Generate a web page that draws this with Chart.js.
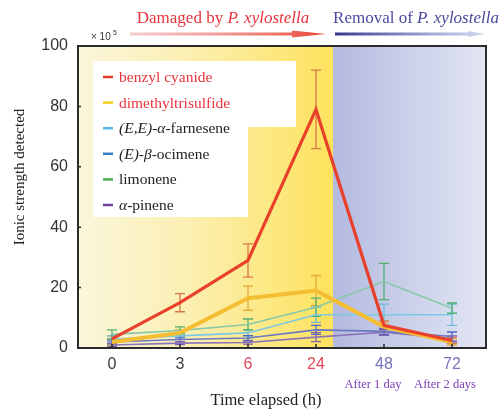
<!DOCTYPE html>
<html>
<head>
<meta charset="utf-8">
<script src="https://cdn.jsdelivr.net/npm/chart.js@4.4.1/dist/chart.umd.min.js"></script>
<style>
  html, body { margin: 0; padding: 0; background: #ffffff; }
  #wrap { width: 501px; height: 412px; }
</style>
</head>
<body>
<div id="wrap"><canvas id="c" width="501" height="412"></canvas></div>
<script>
// Sampling times (h) and volatile ion intensities (x 10^5)
const categories = ['0', '3', '6', '24', '48', '72'];

const benzylCyanide       = [3, 15, 29, 79, 7.5, 2.5];
const benzylCyanideErr    = [1, 3, 5.5, 13, 1.5, 1];
const dimethyltrisulfide    = [2, 5, 16.5, 19, 7, 2];
const dimethyltrisulfideErr = [1, 1, 4, 5, 1.5, 1];
const farnesene    = [3, 4, 5, 11, 11, 11];
const farneseneErr = [1, 1, 1, 2.5, 3.5, 3.5];
const ocimene    = [2, 2.8, 3.3, 6, 5.5, 3.8];
const ocimeneErr = [0.6, 0.8, 0.8, 1.5, 1, 1.5];
const limonene    = [4.5, 5.8, 7.8, 13.5, 22, 13.2];
const limoneneErr = [1.5, 1.2, 1.8, 3, 6, 1.7];
const pinene    = [1, 1.6, 1.8, 3.6, 5.2, 3];
const pineneErr = [0.5, 0.5, 0.5, 1.5, 1, 1];

const SERIF = "'Liberation Serif', 'Times New Roman', serif";
const SANS = "'Liberation Sans', Arial, sans-serif";

const series = [
  { label: 'benzyl cyanide', data: benzylCyanide, err: benzylCyanideErr, color: '#e8402a', errColor: '#d9784c', width: 3.2,
    legendColor: '#e8392a', text: [{ t: 'benzyl cyanide' }], textColor: '#e8343c' },
  { label: 'dimethyltrisulfide', data: dimethyltrisulfide, err: dimethyltrisulfideErr, color: '#f5bd32', errColor: '#e3a83c', width: 4,
    legendColor: '#f5d020', text: [{ t: 'dimethyltrisulfide' }], textColor: '#e8343c' },
  { label: '(E,E)-α-farnesene', data: farnesene, err: farneseneErr, color: '#7cc8e6', errColor: '#6cbcd8', width: 1.6,
    legendColor: '#5cb8e8', text: [{ t: '(E,E)', i: true }, { t: '-' }, { t: 'α', i: true }, { t: '-farnesene' }], textColor: '#222222' },
  { label: '(E)-β-ocimene', data: ocimene, err: ocimeneErr, color: '#6a78c4', errColor: '#4e66c0', width: 1.6,
    legendColor: '#3a78c8', text: [{ t: '(E)', i: true }, { t: '-' }, { t: 'β', i: true }, { t: '-ocimene' }], textColor: '#222222' },
  { label: 'limonene', data: limonene, err: limoneneErr, color: '#86c8a8', errColor: '#52b070', width: 1.6,
    legendColor: '#4cb050', text: [{ t: 'limonene' }], textColor: '#222222' },
  { label: 'α-pinene', data: pinene, err: pineneErr, color: '#8a74b8', errColor: '#8060b0', width: 1.6,
    legendColor: '#7040a0', text: [{ t: 'α', i: true }, { t: '-pinene' }], textColor: '#222222' }
];

const tickColors = ['#3a3a3a', '#3a3a3a', '#e2485a', '#e2485a', '#7474bc', '#7474bc'];

// Draws a run of text pieces (some italic) starting at x
function drawRuns(ctx, runs, x, y, size, color, align) {
  let total = 0;
  runs.forEach(r => {
    ctx.font = (r.i ? 'italic ' : '') + size + 'px ' + SERIF;
    r.w = ctx.measureText(r.t).width;
    total += r.w;
  });
  let cx = align === 'center' ? x - total / 2 : x;
  ctx.fillStyle = color;
  ctx.textBaseline = 'alphabetic';
  ctx.textAlign = 'left';
  runs.forEach(r => {
    ctx.font = (r.i ? 'italic ' : '') + size + 'px ' + SERIF;
    ctx.fillText(r.t, cx, y);
    cx += r.w;
  });
}

const backgroundPlugin = {
  id: 'phaseBackground',
  beforeDatasetsDraw(chart) {
    const { ctx, chartArea: { left, top, right, bottom }, scales: { x } } = chart;
    const p3 = x.getPixelForValue(3), p4 = x.getPixelForValue(4);
    const split = p3 + (p4 - p3) * 0.25;
    ctx.save();
    const gy = ctx.createLinearGradient(left, 0, split, 0);
    gy.addColorStop(0, '#fbf6dc');
    gy.addColorStop(0.45, '#fbefb0');
    gy.addColorStop(1, '#fde25c');
    ctx.fillStyle = gy;
    ctx.fillRect(left, top, split - left, bottom - top);
    const gb = ctx.createLinearGradient(split, 0, right, 0);
    gb.addColorStop(0, '#b3badf');
    gb.addColorStop(1, '#e3e6f4');
    ctx.fillStyle = gb;
    ctx.fillRect(split, top, right - split, bottom - top);

    // error bars
    ctx.lineWidth = 1.3;
    chart.data.datasets.forEach((ds, di) => {
      const s = series[di];
      ctx.strokeStyle = s.errColor;
      ds.data.forEach((v, i) => {
        const px = x.getPixelForValue(i);
        const y1 = chart.scales.y.getPixelForValue(v + s.err[i]);
        const y2 = chart.scales.y.getPixelForValue(v - s.err[i]);
        ctx.beginPath();
        ctx.moveTo(px, y1); ctx.lineTo(px, y2);
        ctx.moveTo(px - 5, y1); ctx.lineTo(px + 5, y1);
        ctx.moveTo(px - 5, y2); ctx.lineTo(px + 5, y2);
        ctx.stroke();
      });
    });
    ctx.restore();
  },
  afterDraw(chart) {
    const { ctx, chartArea: { left, top, right, bottom }, scales: { x, y } } = chart;
    ctx.save();
    // frame
    ctx.strokeStyle = '#2b2b2b';
    ctx.lineWidth = 2;
    ctx.strokeRect(left, top, right - left, bottom - top);
    ctx.lineWidth = 1.5;
    ctx.beginPath();
    [20, 40, 60, 80].forEach(v => {
      const py = y.getPixelForValue(v);
      ctx.moveTo(left, py); ctx.lineTo(left + 3, py);
    });
    categories.forEach((c, i) => {
      const px = x.getPixelForValue(i);
      ctx.moveTo(px, bottom); ctx.lineTo(px, bottom - 4);
    });
    ctx.stroke();

    // legend boxes
    ctx.fillStyle = '#ffffff';
    ctx.fillRect(93, 61, 203, 66);
    ctx.fillRect(93, 61, 155, 156);
    series.forEach((s, i) => {
      const ry = 77 + i * 25.6;
      ctx.strokeStyle = s.legendColor;
      ctx.lineWidth = 2.5;
      ctx.beginPath();
      ctx.moveTo(103, ry); ctx.lineTo(113, ry);
      ctx.stroke();
      drawRuns(ctx, s.text, 119, ry + 5, 15.5, s.textColor, 'left');
    });

    // scale multiplier
    ctx.fillStyle = '#333333';
    ctx.font = '10px ' + SANS;
    ctx.textAlign = 'left';
    ctx.textBaseline = 'alphabetic';
    ctx.fillText('× 10', 91, 40);
    ctx.font = '7px ' + SANS;
    ctx.fillText('5', 113, 35);

    // phase headers
    drawRuns(ctx, [{ t: 'Damaged by ' }, { t: 'P. xylostella', i: true }], 223, 23, 17, '#e8343c', 'center');
    drawRuns(ctx, [{ t: 'Removal of ' }, { t: 'P. xylostella', i: true }], 416, 23, 17, '#4a4aa0', 'center');

    // red arrow
    const ga = ctx.createLinearGradient(130, 0, 325, 0);
    ga.addColorStop(0, 'rgba(240,170,175,0.6)');
    ga.addColorStop(1, '#e84a36');
    ctx.fillStyle = ga;
    ctx.beginPath();
    ctx.moveTo(130, 32.5); ctx.lineTo(292, 32.5); ctx.lineTo(292, 30.5);
    ctx.lineTo(326, 34); ctx.lineTo(292, 37.5); ctx.lineTo(292, 35.5);
    ctx.lineTo(130, 35.5); ctx.closePath();
    ctx.fill();
    // blue arrow
    const gbA = ctx.createLinearGradient(335, 0, 485, 0);
    gbA.addColorStop(0, '#35378e');
    gbA.addColorStop(1, 'rgba(200,208,240,0.8)');
    ctx.fillStyle = gbA;
    ctx.beginPath();
    ctx.moveTo(335, 32.5); ctx.lineTo(468, 32.5); ctx.lineTo(468, 31);
    ctx.lineTo(485, 34); ctx.lineTo(468, 37); ctx.lineTo(468, 35.5);
    ctx.lineTo(335, 35.5); ctx.closePath();
    ctx.fill();

    // axis titles
    ctx.save();
    ctx.translate(24, 177);
    ctx.rotate(-Math.PI / 2);
    drawRuns(ctx, [{ t: 'Ionic strength detected' }], 0, 0, 15, '#222222', 'center');
    ctx.restore();
    drawRuns(ctx, [{ t: 'Time elapsed (h)' }], 266, 405, 16.5, '#222222', 'center');
    drawRuns(ctx, [{ t: 'After 1 day' }], x.getPixelForValue(4) - 11, 388, 12.5, '#7a3cb8', 'center');
    drawRuns(ctx, [{ t: 'After 2 days' }], x.getPixelForValue(5) - 7, 388, 12.5, '#7a3cb8', 'center');
    ctx.restore();
  }
};

new Chart(document.getElementById('c'), {
  type: 'line',
  data: {
    labels: categories,
    datasets: series.map(s => ({
      label: s.label,
      data: s.data,
      borderColor: s.color,
      backgroundColor: s.color,
      borderWidth: s.width,
      pointRadius: 0,
      tension: 0,
      fill: false
    }))
  },
  options: {
    responsive: false,
    animation: false,
    devicePixelRatio: 1,
    layout: { padding: { top: 46, right: 15, left: 0, bottom: 0 } },
    plugins: { legend: { display: false }, tooltip: { enabled: false } },
    scales: {
      x: {
        type: 'category',
        offset: true,
        grid: { display: false, drawTicks: false },
        border: { display: false },
        ticks: {
          padding: 7,
          font: { family: SANS, size: 16 },
          color: ctx => tickColors[ctx.index]
        },
        afterFit: s => { s.height = 64; }
      },
      y: {
        min: 0,
        max: 100,
        grid: { display: false, drawTicks: false },
        border: { display: false },
        ticks: {
          stepSize: 20,
          padding: 10,
          font: { family: SANS, size: 16 },
          color: '#333333'
        },
        afterFit: s => { s.width = 78; }
      }
    }
  },
  plugins: [backgroundPlugin]
});
</script>
</body>
</html>
